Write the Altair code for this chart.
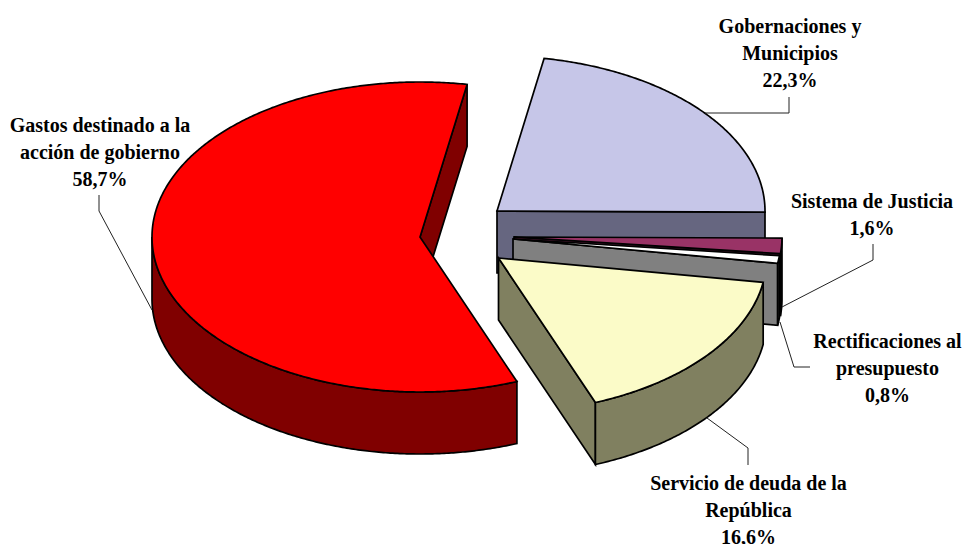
import math
import altair as alt

# ---- values ----
categories = ["Gastos destinado a la acción de gobierno", "Gobernaciones y Municipios",
              "Sistema de Justicia", "Rectificaciones al presupuesto",
              "Servicio de deuda de la República"]
shares = [58.7, 22.3, 1.6, 0.8, 16.6]
label_lines = [
    ["Gastos destinado a la", "acción de gobierno", "58,7%"],
    ["Gobernaciones y", "Municipios", "22,3%"],
    ["Sistema de Justicia", "1,6%"],
    ["Rectificaciones al", "presupuesto", "0,8%"],
    ["Servicio de deuda de la", "República", "16,6%"],
]

# ---- layout and style (page pixels) ----
MARGIN = 8
W, H = 954, 536
RX, RY, DEPTH = 268, 155, 62
FIRST_ANGLE = 158.8
centres = [(420, 237), (497, 211), (514, 237), (513, 239), (498.5, 258)]
top_fill = ["#FF0000", "#C6C6E8", "#993366", "#FFFFFF", "#FBFBC8"]
wall_fill = ["#800000", "#666680", "#4D1A33", "#808080", "#808060"]
draw_order = [1, 2, 3, 4, 0]
label_anchor = [(100, 132), (790, 33), (872, 208), (887.5, 348), (748.5, 490)]
LINE_GAP = 27
leaders = [
    [(152, 310), (99, 211), (99, 195)],
    [(705, 113), (789, 113), (789, 97)],
    [(782, 307), (873, 260), (873, 244)],
    [(780, 322), (794, 367), (810, 367)],
    [(707, 418), (748, 448), (748, 465)],
]

total = sum(shares)
features = []


def pt(c, a, dz=0):
    r = math.radians(a)
    return [c[0] + RX * math.sin(r), c[1] - RY * math.cos(r) + dz]


def add(ring, fill):
    ring = ring + [ring[0]]
    features.append({"type": "Feature", "properties": {"fill": fill},
                     "geometry": {"type": "Polygon", "coordinates": [ring]}})


spans = []
a = FIRST_ANGLE
for s in shares:
    spans.append((a, a + s / total * 360))
    a = spans[-1][1]

for i in draw_order:
    c = centres[i]
    a0, a1 = spans[i]
    n = max(2, int((a1 - a0) * 2))
    angs = [a0 + (a1 - a0) * k / n for k in range(n + 1)]
    # radial wall at the clockwise end, when it faces the viewer
    if math.sin(math.radians(a1)) > 0:
        add([list(c), pt(c, a1), pt(c, a1, DEPTH), [c[0], c[1] + DEPTH]], wall_fill[i])
    # outer wall: only the part on the near half of the ellipse
    near = [t for t in angs if 90 <= t % 360 <= 270]
    if len(near) > 1:
        add([pt(c, t) for t in near] + [pt(c, t, DEPTH) for t in reversed(near)], wall_fill[i])
    # top face
    add([list(c)] + [pt(c, t) for t in angs], top_fill[i])

text_rows = []
for (ax, ay), lines in zip(label_anchor, label_lines):
    for j, line in enumerate(lines):
        text_rows.append({"x": ax - MARGIN, "y": ay + j * LINE_GAP - MARGIN, "t": line})

leader_rows = []
for k, path in enumerate(leaders):
    for j, (x, y) in enumerate(path):
        leader_rows.append({"x": x - MARGIN, "y": y - MARGIN, "k": k, "j": j})

pie = alt.Chart(alt.Data(values=features)).mark_geoshape(
    stroke="#000000", strokeWidth=1.7, strokeJoin="miter"
).encode(
    fill=alt.Fill("properties.fill:N", scale=None, legend=None)
).project(type="identity", scale=1, translate=[-MARGIN, -MARGIN])

lead = alt.Chart(alt.Data(values=leader_rows)).mark_line(
    color="#222222", strokeWidth=1
).encode(
    x=alt.X("x:Q", scale=None, axis=None),
    y=alt.Y("y:Q", scale=None, axis=None),
    detail="k:N",
    order="j:Q",
)

text = alt.Chart(alt.Data(values=text_rows)).mark_text(
    font="Liberation Serif", fontWeight="bold", fontSize=20, color="#000000",
    align="center", baseline="alphabetic"
).encode(
    x=alt.X("x:Q", scale=None, axis=None),
    y=alt.Y("y:Q", scale=None, axis=None),
    text="t:N",
)

chart = alt.layer(pie, lead, text).properties(
    width=W, height=H, padding=0, autosize=alt.AutoSizeParams(type="none"),
    background="#FFFFFF"
).configure_view(stroke=None)

chart.save("out.html", embed_options={"renderer": "svg", "actions": False})
